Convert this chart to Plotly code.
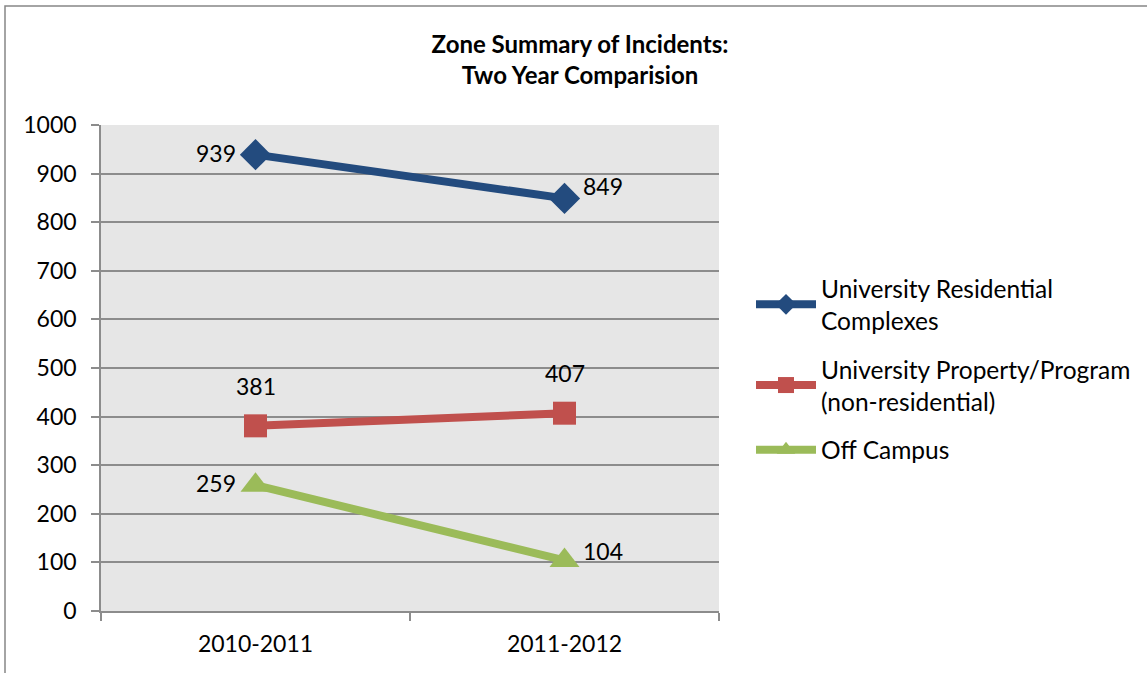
import plotly.graph_objects as go

categories = ["2010-2011", "2011-2012"]
series_names = [
    "University Residential<br>Complexes",
    "University Property/Program<br>(non-residential)",
    "Off Campus",
]
residential = [939, 849]
property_program = [381, 407]
off_campus = [259, 104]
y_ticks = [0, 100, 200, 300, 400, 500, 600, 700, 800, 900, 1000]

colors = ["#234B7E", "#C0504D", "#9BBB59"]
symbols = ["diamond", "square", "triangle-up"]
msizes = [24, 23, 26]
values = [residential, property_program, off_campus]
# label placement per point: (xanchor, yanchor, xshift, yshift)
label_pos = [
    [("right", "middle", -18, 2), ("left", "middle", 16, 12)],
    [("center", "bottom", 0, 24), ("center", "bottom", 0, 24)],
    [("right", "middle", -18, 2), ("left", "middle", 16, 9)],
]

FONT = "Lato, 'Open Sans', sans-serif"
xs = list(range(len(categories)))

fig = go.Figure()
for name, vals, c, s, ms in zip(series_names, values, colors, symbols, msizes):
    fig.add_trace(go.Scatter(
        x=xs, y=vals, name=name, mode="lines+markers",
        line=dict(color=c, width=8),
        marker=dict(symbol=s, size=ms, color=c, line=dict(width=0)),
        legendgroup=name,
    ))

annotations = []
for vals, pos in zip(values, label_pos):
    for xi, v, (xa, ya, dx, dy) in zip(xs, vals, pos):
        annotations.append(dict(
            x=xi, y=v, xref="x", yref="y", text=str(v), showarrow=False,
            xanchor=xa, yanchor=ya, xshift=dx, yshift=dy,
            font=dict(family=FONT, size=23, color="#000000"),
        ))

fig.update_layout(
    width=1147, height=673,
    margin=dict(l=101, r=428, t=125, b=62, autoexpand=False),
    paper_bgcolor="white",
    plot_bgcolor="#E6E6E6",
    font=dict(family=FONT, size=23, color="#000000"),
    title=dict(
        text="<b>Zone Summary of Incidents:<br>Two Year Comparision</b>",
        x=580 / 1147, xanchor="center", xref="container",
        y=1 - 53 / 673, yanchor="top", yref="container",
        font=dict(family=FONT, size=24, color="#000000"),
    ),
    xaxis=dict(
        range=[-0.5, len(categories) - 0.5],
        tickmode="array", tickvals=xs, ticktext=categories,
        ticks="", showgrid=False, zeroline=False,
        showline=True, linecolor="#8C8C8C", linewidth=1.5,
        ticklabelstandoff=12,
        tickfont=dict(family=FONT, size=23),
        minor=dict(tickmode="array",
                   tickvals=[i - 0.5 for i in range(len(categories) + 1)],
                   ticks="outside", ticklen=8, tickcolor="#8C8C8C",
                   tickwidth=1.5, showgrid=False),
        fixedrange=True, automargin=False,
    ),
    yaxis=dict(
        range=[0, 1000], tickmode="array", tickvals=y_ticks,
        ticks="outside", ticklen=8, tickcolor="#8C8C8C", tickwidth=1.5,
        showgrid=True, gridcolor="#8C8C8C", gridwidth=1.5,
        zeroline=False, showline=True, linecolor="#8C8C8C", linewidth=1.5,
        ticklabelstandoff=10,
        tickfont=dict(family=FONT, size=23),
        fixedrange=True, automargin=False,
    ),
    legend=dict(
        x=(751 - 101) / 618, xanchor="left",
        y=(611 - 266) / 486, yanchor="top",
        bgcolor="rgba(0,0,0,0)",
        font=dict(family=FONT, size=24.5, color="#000000"),
        tracegroupgap=14,
        itemwidth=60,
    ),
    annotations=annotations,
    shapes=[dict(
        type="rect", xref="paper", yref="paper",
        x0=(5 - 101) / 618, x1=(1160 - 101) / 618,
        y0=(611 - 690) / 486, y1=(611 - 6) / 486,
        line=dict(color="#868686", width=1.5), layer="below",
    )],
)

fig.write_html("out.html", config={"displayModeBar": False},
               post_script="document.body.style.margin='0';document.body.style.overflow='hidden';")
